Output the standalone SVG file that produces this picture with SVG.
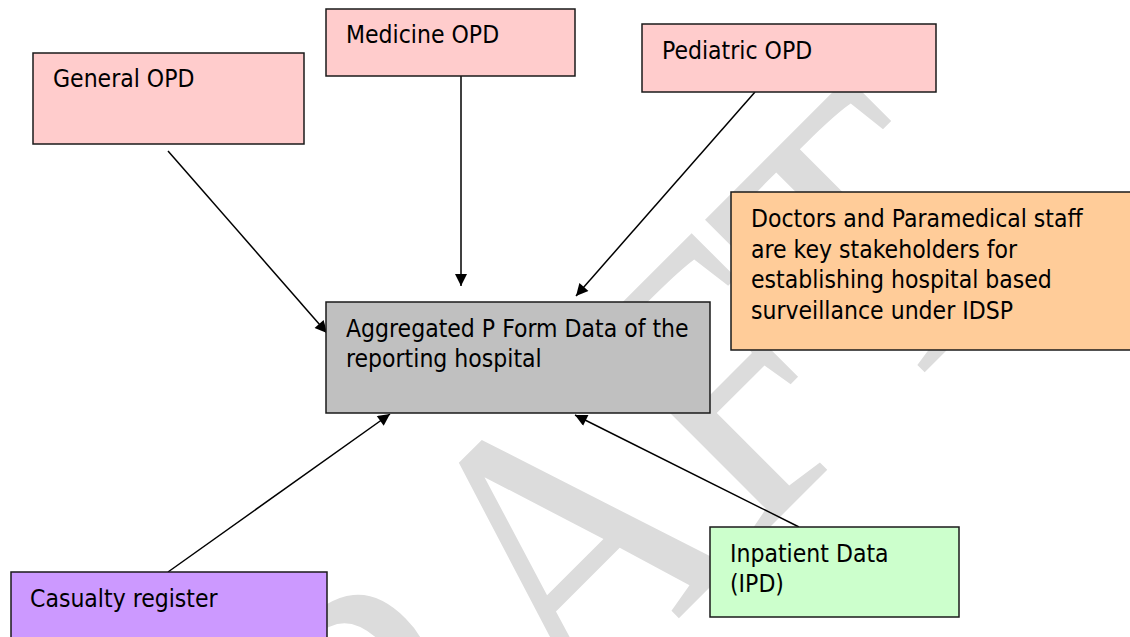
<svg xmlns="http://www.w3.org/2000/svg" width="1130" height="637" viewBox="0 0 1130 637">
  <defs>
    <style>
      .box { stroke: #1a1a1a; stroke-width: 1.5; }
      .pink { fill: #FFCCCC; }
      .grey { fill: #C0C0C0; }
      .orange { fill: #FFCC99; }
      .purple { fill: #CC99FF; }
      .green { fill: #CCFFCC; }
      .lbl { font-family: "DejaVu Sans Condensed", "DejaVu Sans", sans-serif; font-stretch: condensed; font-size: 24.5px; fill: #000; }
      .conn { stroke: #000; stroke-width: 1.5; fill: none; marker-end: url(#arrow); }
      .wm { font-family: "Liberation Serif", serif; font-size: 402px; fill: #dcdcdc; }
    </style>
    <marker id="arrow" viewBox="0 0 10 10" refX="10" refY="5" markerWidth="14" markerHeight="12" markerUnits="userSpaceOnUse" orient="auto">
      <path d="M0,0 L10,5 L0,10 z" fill="#000"/>
    </marker>
  </defs>
  <rect width="1130" height="637" fill="#fff"/>
  <g id="watermark">
    <text class="wm" transform="translate(227,1070) rotate(-45) scale(0.87,1)">DRAFT</text>
  </g>
  <g id="connectors">
    <line class="conn" x1="168" y1="151" x2="327" y2="333"/>
    <line class="conn" x1="461" y1="76" x2="461" y2="286"/>
    <line class="conn" x1="755" y1="92" x2="576" y2="296"/>
    <line class="conn" x1="168" y1="572" x2="390" y2="414"/>
    <line class="conn" x1="799" y1="527" x2="575" y2="415"/>
  </g>
  <g id="general-opd">
    <rect class="box pink" x="33" y="53" width="271" height="91"/>
    <text class="lbl" x="53" y="87">General OPD</text>
  </g>
  <g id="medicine-opd">
    <rect class="box pink" x="326" y="9" width="249" height="67"/>
    <text class="lbl" x="346" y="43">Medicine OPD</text>
  </g>
  <g id="pediatric-opd">
    <rect class="box pink" x="642" y="24" width="294" height="68"/>
    <text class="lbl" x="662" y="59">Pediatric OPD</text>
  </g>
  <g id="stakeholders-note">
    <rect class="box orange" x="731" y="192" width="410" height="158"/>
    <text class="lbl" x="751" y="227">Doctors and Paramedical staff</text>
    <text class="lbl" x="751" y="258">are key stakeholders for</text>
    <text class="lbl" x="751" y="288">establishing hospital based</text>
    <text class="lbl" x="751" y="319">surveillance under IDSP</text>
  </g>
  <g id="aggregated">
    <rect class="box grey" x="326" y="302" width="384" height="111"/>
    <text class="lbl" x="346" y="337">Aggregated P Form Data of the</text>
    <text class="lbl" x="346" y="367">reporting hospital</text>
  </g>
  <g id="casualty">
    <rect class="box purple" x="11" y="572" width="316" height="80"/>
    <text class="lbl" x="30" y="607">Casualty register</text>
  </g>
  <g id="inpatient">
    <rect class="box green" x="710" y="527" width="249" height="90"/>
    <text class="lbl" x="730" y="562">Inpatient Data</text>
    <text class="lbl" x="730" y="592">(IPD)</text>
  </g>
</svg>
